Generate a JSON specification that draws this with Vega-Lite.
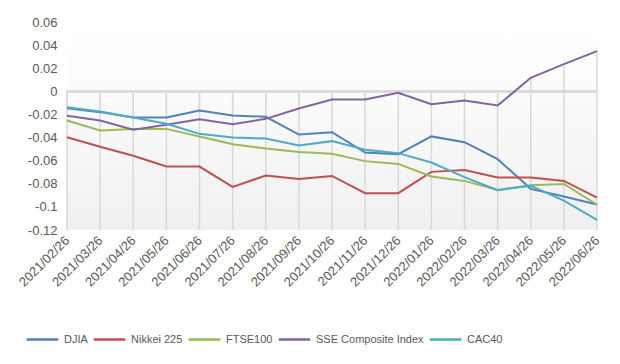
{
  "$schema": "https://vega.github.io/schema/vega-lite/v6.json",
  "width": 530,
  "height": 208,
  "autosize": {"type": "none"},
  "padding": {"left": 67, "top": 22, "right": 23, "bottom": 134},
  "background": "#ffffff",
  "config": {
    "view": {
      "stroke": null,
      "fill": {"gradient": "linear", "x1": 0, "y1": 0, "x2": 0, "y2": 1, "stops": [{"offset": 0, "color": "#ffffff"}, {"offset": 0.3, "color": "#fcfcfc"}, {"offset": 1, "color": "#f0f0f0"}]}
    },
    "font": "Liberation Sans",
    "axis": {"labelFont": "Liberation Sans", "labelColor": "#595959", "labelFontSize": 13}
  },
  "data": {
    "values": [
      {"date": "2021/02/26", "series": "DJIA", "value": -0.0146},
      {"date": "2021/03/26", "series": "DJIA", "value": -0.018},
      {"date": "2021/04/26", "series": "DJIA", "value": -0.0227},
      {"date": "2021/05/26", "series": "DJIA", "value": -0.0227},
      {"date": "2021/06/26", "series": "DJIA", "value": -0.0166},
      {"date": "2021/07/26", "series": "DJIA", "value": -0.021},
      {"date": "2021/08/26", "series": "DJIA", "value": -0.022},
      {"date": "2021/09/26", "series": "DJIA", "value": -0.0374},
      {"date": "2021/10/26", "series": "DJIA", "value": -0.0354},
      {"date": "2021/11/26", "series": "DJIA", "value": -0.053},
      {"date": "2021/12/26", "series": "DJIA", "value": -0.0544},
      {"date": "2022/01/26", "series": "DJIA", "value": -0.039},
      {"date": "2022/02/26", "series": "DJIA", "value": -0.044},
      {"date": "2022/03/26", "series": "DJIA", "value": -0.0587},
      {"date": "2022/04/26", "series": "DJIA", "value": -0.0844},
      {"date": "2022/05/26", "series": "DJIA", "value": -0.091},
      {"date": "2022/06/26", "series": "DJIA", "value": -0.098},
      {"date": "2021/02/26", "series": "Nikkei 225", "value": -0.0397},
      {"date": "2021/03/26", "series": "Nikkei 225", "value": -0.048},
      {"date": "2021/04/26", "series": "Nikkei 225", "value": -0.0558},
      {"date": "2021/05/26", "series": "Nikkei 225", "value": -0.0651},
      {"date": "2021/06/26", "series": "Nikkei 225", "value": -0.0651},
      {"date": "2021/07/26", "series": "Nikkei 225", "value": -0.0827},
      {"date": "2021/08/26", "series": "Nikkei 225", "value": -0.0729},
      {"date": "2021/09/26", "series": "Nikkei 225", "value": -0.0758},
      {"date": "2021/10/26", "series": "Nikkei 225", "value": -0.0732},
      {"date": "2021/11/26", "series": "Nikkei 225", "value": -0.0881},
      {"date": "2021/12/26", "series": "Nikkei 225", "value": -0.0881},
      {"date": "2022/01/26", "series": "Nikkei 225", "value": -0.0697},
      {"date": "2022/02/26", "series": "Nikkei 225", "value": -0.068},
      {"date": "2022/03/26", "series": "Nikkei 225", "value": -0.0746},
      {"date": "2022/04/26", "series": "Nikkei 225", "value": -0.0746},
      {"date": "2022/05/26", "series": "Nikkei 225", "value": -0.0775},
      {"date": "2022/06/26", "series": "Nikkei 225", "value": -0.092},
      {"date": "2021/02/26", "series": "FTSE100", "value": -0.0253},
      {"date": "2021/03/26", "series": "FTSE100", "value": -0.0339},
      {"date": "2021/04/26", "series": "FTSE100", "value": -0.0325},
      {"date": "2021/05/26", "series": "FTSE100", "value": -0.0325},
      {"date": "2021/06/26", "series": "FTSE100", "value": -0.039},
      {"date": "2021/07/26", "series": "FTSE100", "value": -0.0457},
      {"date": "2021/08/26", "series": "FTSE100", "value": -0.0495},
      {"date": "2021/09/26", "series": "FTSE100", "value": -0.0524},
      {"date": "2021/10/26", "series": "FTSE100", "value": -0.0541},
      {"date": "2021/11/26", "series": "FTSE100", "value": -0.0604},
      {"date": "2021/12/26", "series": "FTSE100", "value": -0.0628},
      {"date": "2022/01/26", "series": "FTSE100", "value": -0.0737},
      {"date": "2022/02/26", "series": "FTSE100", "value": -0.0775},
      {"date": "2022/03/26", "series": "FTSE100", "value": -0.0853},
      {"date": "2022/04/26", "series": "FTSE100", "value": -0.0812},
      {"date": "2022/05/26", "series": "FTSE100", "value": -0.0801},
      {"date": "2022/06/26", "series": "FTSE100", "value": -0.098},
      {"date": "2021/02/26", "series": "SSE Composite Index", "value": -0.0212},
      {"date": "2021/03/26", "series": "SSE Composite Index", "value": -0.0253},
      {"date": "2021/04/26", "series": "SSE Composite Index", "value": -0.0333},
      {"date": "2021/05/26", "series": "SSE Composite Index", "value": -0.029},
      {"date": "2021/06/26", "series": "SSE Composite Index", "value": -0.0241},
      {"date": "2021/07/26", "series": "SSE Composite Index", "value": -0.0284},
      {"date": "2021/08/26", "series": "SSE Composite Index", "value": -0.0238},
      {"date": "2021/09/26", "series": "SSE Composite Index", "value": -0.0149},
      {"date": "2021/10/26", "series": "SSE Composite Index", "value": -0.0071},
      {"date": "2021/11/26", "series": "SSE Composite Index", "value": -0.0071},
      {"date": "2021/12/26", "series": "SSE Composite Index", "value": -0.0013},
      {"date": "2022/01/26", "series": "SSE Composite Index", "value": -0.0111},
      {"date": "2022/02/26", "series": "SSE Composite Index", "value": -0.008},
      {"date": "2022/03/26", "series": "SSE Composite Index", "value": -0.0123},
      {"date": "2022/04/26", "series": "SSE Composite Index", "value": 0.0117},
      {"date": "2022/05/26", "series": "SSE Composite Index", "value": 0.0235},
      {"date": "2022/06/26", "series": "SSE Composite Index", "value": 0.0348},
      {"date": "2021/02/26", "series": "CAC40", "value": -0.0137},
      {"date": "2021/03/26", "series": "CAC40", "value": -0.0175},
      {"date": "2021/04/26", "series": "CAC40", "value": -0.0227},
      {"date": "2021/05/26", "series": "CAC40", "value": -0.0281},
      {"date": "2021/06/26", "series": "CAC40", "value": -0.0368},
      {"date": "2021/07/26", "series": "CAC40", "value": -0.04},
      {"date": "2021/08/26", "series": "CAC40", "value": -0.0408},
      {"date": "2021/09/26", "series": "CAC40", "value": -0.0469},
      {"date": "2021/10/26", "series": "CAC40", "value": -0.0431},
      {"date": "2021/11/26", "series": "CAC40", "value": -0.0506},
      {"date": "2021/12/26", "series": "CAC40", "value": -0.0535},
      {"date": "2022/01/26", "series": "CAC40", "value": -0.0616},
      {"date": "2022/02/26", "series": "CAC40", "value": -0.0743},
      {"date": "2022/03/26", "series": "CAC40", "value": -0.0855},
      {"date": "2022/04/26", "series": "CAC40", "value": -0.0818},
      {"date": "2022/05/26", "series": "CAC40", "value": -0.0945},
      {"date": "2022/06/26", "series": "CAC40", "value": -0.1113}
    ]
  },
  "encoding": {
    "x": {
      "field": "date", "type": "ordinal", "sort": null,
      "scale": {"type": "point", "padding": 0},
      "axis": {"title": null, "labelAngle": -45, "labelAlign": "right", "labelBaseline": "middle", "labelOverlap": false, "ticks": false, "domain": false, "grid": false, "labelPadding": 8}
    }
  },
  "layer": [
    {
      "transform": [{"aggregate": [{"op": "max", "field": "value", "as": "maxv"}], "groupby": ["date"]}],
      "layer": [
        {
          "mark": {"type": "rule", "color": "#d9d9d9", "strokeWidth": 1.5},
          "encoding": {
            "y": {"datum": 0, "type": "quantitative", "scale": {"domain": [-0.12, 0.06], "nice": false},
              "axis": {"title": null, "values": [-0.12, -0.1, -0.08, -0.06, -0.04, -0.02, 0, 0.02, 0.04, 0.06], "labelExpr": "'' + datum.value", "labelOverlap": false, "ticks": false, "domain": false, "grid": false, "labelPadding": 10}},
            "y2": {"datum": -0.12}
          }
        },
        {
          "mark": {"type": "rule", "color": "#d9d9d9", "strokeWidth": 1.5},
          "encoding": {
            "y": {"field": "maxv", "type": "quantitative",
              "axis": {"title": null, "values": [-0.12, -0.1, -0.08, -0.06, -0.04, -0.02, 0, 0.02, 0.04, 0.06], "labelExpr": "'' + datum.value", "labelOverlap": false, "ticks": false, "domain": false, "grid": false, "labelPadding": 10}},
            "y2": {"datum": 0}
          }
        }
      ]
    },
    {
      "mark": {"type": "rule", "color": "#d9d9d9", "strokeWidth": 2},
      "encoding": {"x": null, "y": {"datum": 0, "type": "quantitative",
        "axis": {"title": null, "values": [-0.12, -0.1, -0.08, -0.06, -0.04, -0.02, 0, 0.02, 0.04, 0.06], "labelExpr": "'' + datum.value", "labelOverlap": false, "ticks": false, "domain": false, "grid": false, "labelPadding": 10}}}
    },
    {
      "mark": {"type": "line", "strokeWidth": 2},
      "encoding": {
        "y": {
          "field": "value", "type": "quantitative",
          "scale": {"domain": [-0.12, 0.06], "nice": false},
          "axis": {"title": null, "values": [-0.12, -0.1, -0.08, -0.06, -0.04, -0.02, 0, 0.02, 0.04, 0.06], "labelExpr": "'' + datum.value", "labelOverlap": false, "ticks": false, "domain": false, "grid": false, "labelPadding": 10}
        },
        "color": {
          "field": "series", "type": "nominal",
          "scale": {"domain": ["DJIA", "Nikkei 225", "FTSE100", "SSE Composite Index", "CAC40"], "range": ["#4F81BD", "#C0504D", "#9BBB59", "#8064A2", "#4BACC6"]},
          "legend": {
            "title": null, "orient": "none", "legendX": -42, "legendY": 300, "direction": "horizontal", "gridAlign": "none",
            "symbolType": "stroke", "symbolSize": 1000, "symbolStrokeWidth": 2.5,
            "labelFontSize": 11, "labelColor": "#595959", "labelFont": "Liberation Sans", "columnPadding": 0, "labelOffset": 4
          }
        }
      }
    }
  ]
}
